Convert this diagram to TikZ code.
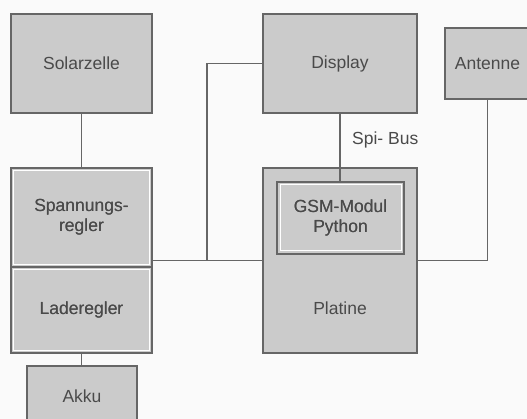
\documentclass[tikz,border=0pt]{standalone}
\usepackage{fontspec}
\setmainfont{Liberation Sans}
\usetikzlibrary{calc}
\definecolor{boxfill}{HTML}{CBCBCB}
\definecolor{boxline}{HTML}{666666}
\definecolor{txt}{HTML}{4A4A4A}
\tikzset{
  box/.style={draw=boxline, fill=boxfill, line width=1.8pt, outer sep=0pt, inner sep=0pt,
    text=txt, font=\fontsize{17.5}{20}\selectfont, align=center},
  inset/.style={draw=white, line width=1pt},
  conn/.style={draw=boxline, line width=1.8pt},
  lbl/.style={text=txt, font=\fontsize{17.5}{20}\selectfont, inner sep=0pt}
}
\begin{document}
\begin{tikzpicture}[x=1pt,y=-1pt]
\useasboundingbox (0,0) rectangle (527,419);
\fill[white!98!black] (0,0) rectangle (527,419);
\begin{scope}
\clip (0,0) rectangle (527,419);
% boxes
\node[box, minimum width=141pt, minimum height=99pt] (solar) at (81.5,63.5) {Solarzelle};
\node[box, minimum width=154pt, minimum height=99pt] (display) at (340,63.5) {Display};
\node[box, minimum width=85pt, minimum height=71pt] (antenne) at (487.5,63.5) {Antenne};
\node[box, minimum width=141pt, minimum height=99pt] (spann) at (81.5,217.5) {Spannungs-\\regler};
\node[box, minimum width=141pt, minimum height=86pt] (lade) at (81.5,310) {Laderegler};
\node[box, minimum width=110pt, minimum height=60pt] (akku) at (82,396) {Akku};
\node[box, minimum width=154pt, minimum height=185pt, text height=0pt] (platine) at (340,260.5) {};
\node[lbl] (platinetext) at (340,308) {Platine};
\node[box, minimum width=127pt, minimum height=72pt] (gsm) at (340.5,218) {GSM-Modul\\Python};
% white inner borders
\draw[inset] ($(spann.north west)+(2.5,2.5)$) rectangle ($(spann.south east)+(-2.5,-2.5)$);
\draw[inset] ($(lade.north west)+(2.5,2.5)$) rectangle ($(lade.south east)+(-2.5,-2.5)$);
\draw[inset] ($(gsm.north west)+(3,3)$) rectangle ($(gsm.south east)+(-3,-3)$);
\node[box, draw=none, fill=none] at (spann.center) {Spannungs-\\regler};
\node[box, draw=none, fill=none] at (lade.center) {Laderegler};
\node[box, draw=none, fill=none] at (gsm.center) {GSM-Modul\\Python};
% connectors
\coordinate (j) at (207,260.5);
\draw[conn] (solar.south) -- (spann.north);
\draw[conn] (lade.south) -- (akku.north -| lade.south);
\draw[conn] (display.west) -| (j);
\draw[conn] (spann.east |- j) -- (platine.west);
\draw[conn] (display.south) -- (gsm.north -| display.south);
\draw[conn] (antenne.south) |- (platine.east);
\node[lbl, anchor=west] (spi) at (352,140) {Spi- Bus};
\end{scope}
\end{tikzpicture}
\end{document}
